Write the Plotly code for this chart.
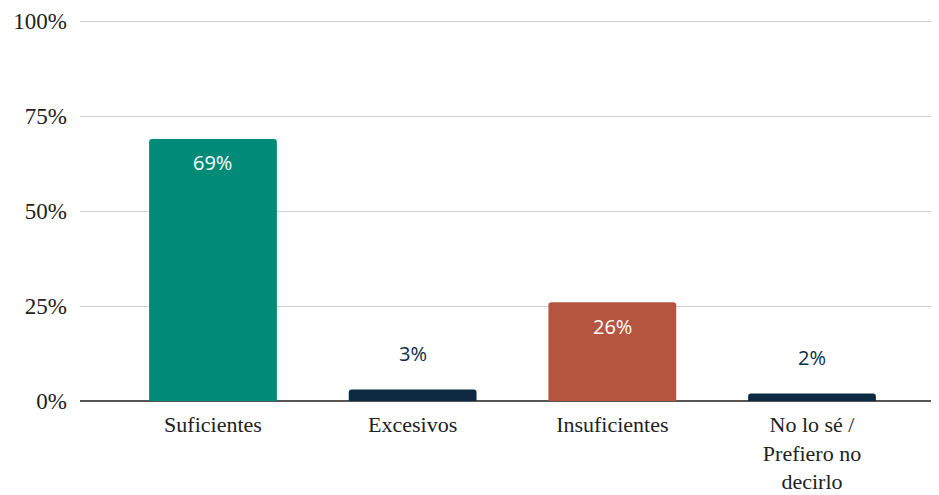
import plotly.graph_objects as go

categories = ["Suficientes", "Excesivos", "Insuficientes", "No lo sé /<br>Prefiero no<br>decirlo"]
values = [69, 3, 26, 2]
bar_colors = ["#008A78", "#0E2A42", "#B5553F"]
label_inside = [True, False, True, False]
tick_vals = [0, 25, 50, 75, 100]
tick_text = ["0%", "25%", "50%", "75%", "100%"]

colors = [bar_colors[0], bar_colors[1], bar_colors[2], bar_colors[1]]

fig = go.Figure()
fig.add_trace(go.Bar(
    x=list(range(len(categories))), y=values,
    marker=dict(color=colors, line=dict(width=0), cornerradius=3),
    width=0.64, hoverinfo="skip",
))

for i, (v, inside) in enumerate(zip(values, label_inside)):
    fig.add_annotation(
        x=i, y=v, text=f"{v}%", showarrow=False,
        yshift=-24 if inside else 36, yanchor="middle",
        font=dict(family="Open Sans, sans-serif", size=20,
                  color="#FFFFFF" if inside else "#0E2A42"),
    )

fig.update_layout(
    width=931, height=487,
    margin=dict(l=72, r=4, t=12, b=94),
    paper_bgcolor="white", plot_bgcolor="white",
    showlegend=False,
    xaxis=dict(
        tickmode="array", tickvals=list(range(len(categories))), ticktext=categories,
        range=[-0.666, 3.616], showgrid=False, zeroline=False,
        showline=False, ticks="", ticklabelstandoff=8, automargin=False,
        tickfont=dict(family="Liberation Serif, serif", size=22, color="#222222"),
    ),
    yaxis=dict(
        range=[0, 100.3], tickmode="array", tickvals=tick_vals, ticktext=tick_text,
        showgrid=True, gridcolor="#D3D3D3", gridwidth=1,
        zeroline=True, zerolinecolor="#555555", zerolinewidth=1.5,
        showline=False, ticks="", ticklabelstandoff=12, automargin=False,
        tickfont=dict(family="Liberation Serif, serif", size=23, color="#222222"),
    ),
)

fig.write_html("out.html")
